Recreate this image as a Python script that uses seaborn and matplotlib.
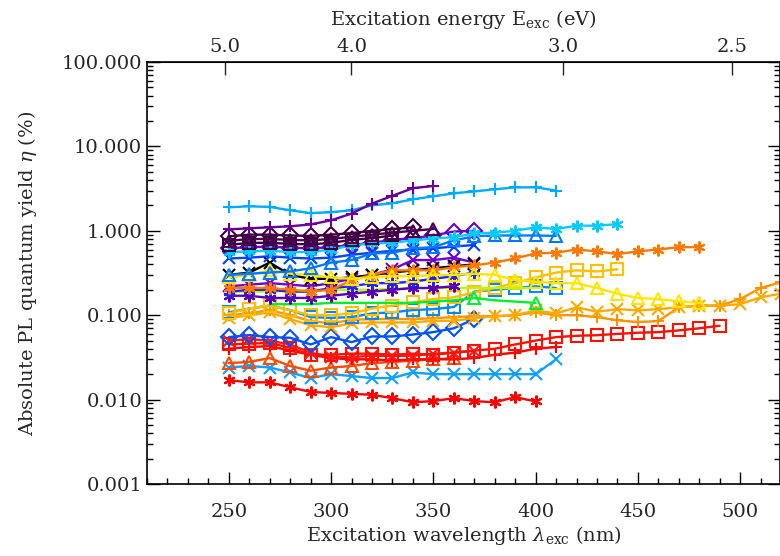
import matplotlib
matplotlib.use("Agg")
import matplotlib.pyplot as plt
import matplotlib.ticker as mticker
import pandas as pd
import seaborn as sns

# Excitation wavelength grid (nm); every series starts at 250 nm unless noted
WAVELENGTHS = [250, 260, 270, 280, 290, 300, 310, 320, 330, 340,
               350, 360, 370, 380, 390, 400, 410, 420, 430, 440,
               450, 460, 470, 480, 490, 500, 510, 520]

# Absolute PL quantum yield (%)
qy_purple_plus = [1.04, 1.07, 1.10, 1.13, 1.19, 1.33, 1.6, 2.1, 2.6, 3.2, 3.4]
qy_cyan_plus = [1.90, 1.95, 1.92, 1.75, 1.62, 1.66, 1.75, 2.0, 2.12, 2.36,
                2.56, 2.78, 2.93, 3.1, 3.27, 3.27, 3.0]
qy_dkpurple_diamond = [0.86, 0.90, 0.90, 0.88, 0.87, 0.90, 0.94, 1.0, 1.05, 1.10]
qy_dkpurple_triangle = [0.76, 0.80, 0.80, 0.78, 0.77, 0.80, 0.85, 0.90, 0.95, 1.0, 1.05]
qy_dkpurple_square = [0.68, 0.72, 0.72, 0.70, 0.69, 0.72, 0.78, 0.82, 0.88]
qy_violet_diamond = [0.62, 0.64, 0.65, 0.63, 0.62, 0.64, 0.68, 0.72, 0.78, 0.82,
                     0.88, 0.98, 1.0]
qy_cyan_star = [0.56, 0.57, 0.58, 0.56, 0.56, 0.60, 0.67, 0.71, 0.72, 0.77,
                0.81, 0.84, 0.93, 0.95, 1.0, 1.1, 1.05, 1.15, 1.15, 1.2]
qy_azure_triangle = [0.30, 0.31, 0.32, 0.33, 0.36, 0.42, 0.45, 0.54, 0.55, 0.62,
                     0.64, 0.77, 0.86, 0.88, 0.88, 0.88, 0.87]
qy_blue_x = [0.47, 0.48, 0.50, 0.48, 0.47, 0.48, 0.52, 0.55, 0.58, 0.60,
             0.62, 0.65, 0.68]
qy_blue_star = [0.19, 0.20, 0.20, 0.19, 0.19, 0.21, 0.22, 0.24, 0.24, 0.25,
                0.27, 0.29, 0.32]
qy_violet_x = [0.22, 0.23, 0.24, 0.23, 0.22, 0.24, 0.27, 0.30, 0.35, 0.45,
               0.45, 0.48, 0.42]
qy_violet_star = [0.17, 0.17, 0.16, 0.16, 0.16, 0.17, 0.18, 0.19, 0.20, 0.21,
                  0.21, 0.22]
qy_black_x = [0.30, 0.32, 0.42, 0.30, 0.27, 0.27, 0.28, 0.30, 0.32, 0.34,
              0.36, 0.38, 0.40]
qy_orange_star = [0.21, 0.21, 0.21, 0.20, 0.19, 0.20, 0.26, 0.30, 0.34, 0.34,
                  0.34, 0.37, 0.39, 0.42, 0.47, 0.54, 0.55, 0.60, 0.57, 0.53,
                  0.57, 0.60, 0.64, 0.64]
qy_yellow_triangle = [0.28, 0.30, 0.34, 0.31, 0.30, 0.28, 0.27, 0.28, 0.29, 0.29,
                      0.30, 0.30, 0.31, 0.30, 0.26, 0.25, 0.24, 0.24, 0.21, 0.18,
                      0.16, 0.155, 0.146, 0.14]
qy_lime_line = [0.19, 0.19, 0.19, 0.195, 0.20, 0.20, 0.20, 0.20, 0.205, 0.21,
                0.21, 0.21, 0.21, 0.21, 0.21, 0.21]
qy_green_triangle = [0.135, 0.135, 0.135, 0.14, 0.14, 0.14, 0.14, 0.14, 0.145,
                     0.15, 0.16, 0.15, 0.145, 0.14]  # starts at 270 nm
qy_gold_square = [0.105, 0.12, 0.13, 0.115, 0.10, 0.10, 0.105, 0.12, 0.13, 0.142,
                  0.155, 0.163, 0.186, 0.21, 0.24, 0.28, 0.32, 0.34, 0.33, 0.35]
qy_azure_square = [0.108, 0.12, 0.13, 0.115, 0.095, 0.093, 0.095, 0.105, 0.108,
                   0.115, 0.118, 0.125, 0.19, 0.20, 0.21, 0.22, 0.21]
qy_orange_x = [0.092, 0.10, 0.108, 0.09, 0.076, 0.072, 0.08, 0.082, 0.082, 0.082,
               0.086, 0.086, 0.092, 0.097, 0.10, 0.114, 0.105, 0.124, 0.11, 0.118,
               0.114, 0.118, 0.124, 0.13, 0.13, 0.135, 0.163, 0.18]
qy_orange_plus = [0.10, 0.105, 0.115, 0.10, 0.085, 0.08, 0.088, 0.09, 0.09, 0.09,
                  0.092, 0.095, 0.097, 0.097, 0.10, 0.108, 0.10, 0.10, 0.095, 0.087,
                  0.083, 0.085, 0.124, 0.13, 0.13, 0.155, 0.21, 0.245]
qy_blue_diamond = [0.055, 0.058, 0.055, 0.054, 0.045, 0.055, 0.048, 0.056, 0.056,
                   0.059, 0.063, 0.07, 0.09]
qy_red_square = [0.045, 0.046, 0.047, 0.041, 0.034, 0.034, 0.035, 0.035, 0.034,
                 0.035, 0.034, 0.036, 0.038, 0.040, 0.045, 0.050, 0.055, 0.057,
                 0.058, 0.060, 0.062, 0.063, 0.066, 0.070, 0.075]
qy_red_x = [0.050, 0.052, 0.050, 0.045, 0.036, 0.032, 0.032, 0.033, 0.033, 0.033,
            0.035, 0.036, 0.038]
qy_red_plus = [0.040, 0.042, 0.043, 0.038, 0.034, 0.031, 0.030, 0.030, 0.029,
               0.030, 0.030, 0.030, 0.031, 0.034, 0.036, 0.040, 0.042]
qy_redorange_triangle = [0.027, 0.028, 0.031, 0.025, 0.022, 0.024, 0.025, 0.027,
                         0.028, 0.029, 0.030, 0.031]
qy_azure_x = [0.024, 0.025, 0.024, 0.021, 0.018, 0.020, 0.019, 0.018, 0.018,
              0.021, 0.020, 0.020, 0.020, 0.020, 0.020, 0.020, 0.030]
qy_red_star = [0.017, 0.016, 0.016, 0.014, 0.0123, 0.012, 0.0117, 0.0114, 0.0104,
               0.0093, 0.0096, 0.0104, 0.0096, 0.0093, 0.0107, 0.0095]

STAR = (6, 2, 0)

# (values, first wavelength, colour, marker)
series = [
    (qy_red_star, 250, "#ff0000", STAR),
    (qy_azure_x, 250, "#10a0ff", "x"),
    (qy_redorange_triangle, 250, "#ff4a00", "^"),
    (qy_red_plus, 250, "#ff0000", "+"),
    (qy_red_x, 250, "#ff1a1a", "x"),
    (qy_red_square, 250, "#ff1000", "s"),
    (qy_blue_diamond, 250, "#0050ff", "D"),
    (qy_orange_plus, 250, "#ff9400", "+"),
    (qy_orange_x, 250, "#ffaa00", "x"),
    (qy_azure_square, 250, "#0088ff", "s"),
    (qy_gold_square, 250, "#ffc000", "s"),
    (qy_green_triangle, 270, "#00ee30", "^"),
    (qy_lime_line, 250, "#b4ff00", None),
    (qy_violet_star, 250, "#5a00b0", STAR),
    (qy_blue_star, 250, "#2020ff", STAR),
    (qy_violet_x, 250, "#7000d0", "x"),
    (qy_black_x, 250, "#000000", "x"),
    (qy_orange_star, 250, "#ff7800", STAR),
    (qy_yellow_triangle, 250, "#ffe600", "^"),
    (qy_blue_x, 250, "#0040ff", "x"),
    (qy_azure_triangle, 250, "#0078ff", "^"),
    (qy_violet_diamond, 250, "#6600cc", "D"),
    (qy_cyan_star, 250, "#00ccff", STAR),
    (qy_dkpurple_square, 250, "#3a003a", "s"),
    (qy_dkpurple_triangle, 250, "#4a0050", "^"),
    (qy_dkpurple_diamond, 250, "#400040", "D"),
    (qy_cyan_plus, 250, "#00aaff", "+"),
    (qy_purple_plus, 250, "#660099", "+"),
]

sns.set_style("ticks")
plt.rcParams["font.family"] = ["DejaVu Serif"]
plt.rcParams["mathtext.fontset"] = "dejavuserif"

fig = plt.figure(figsize=(7.8, 5.56), dpi=100)
ax = fig.add_axes([0.1885, 0.1295, 0.8115, 0.759])

for values, start, color, marker in series:
    i0 = WAVELENGTHS.index(start)
    df = pd.DataFrame({"wl": WAVELENGTHS[i0:i0 + len(values)], "qy": values})
    kws = dict(color=color, linewidth=1.7)
    if marker is not None:
        kws.update(marker=marker, markersize=8.5, markeredgewidth=1.5,
                   markeredgecolor=color, markerfacecolor="none")
    if color == "#00ee30":
        # only a couple of the green triangles stay visible in the original
        kws["markevery"] = [10, 13]
    sns.lineplot(data=df, x="wl", y="qy", ax=ax, **kws)

ax.set_yscale("log")
ax.set_xlim(210, 519.5)
ax.set_ylim(0.001, 100)
ax.yaxis.set_major_locator(mticker.FixedLocator([0.001, 0.01, 0.1, 1, 10, 100]))
ax.yaxis.set_major_formatter(mticker.FormatStrFormatter("%.3f"))
ax.yaxis.set_minor_locator(mticker.LogLocator(base=10, subs=range(2, 10)))
ax.yaxis.set_minor_formatter(mticker.NullFormatter())
ax.xaxis.set_major_locator(mticker.MultipleLocator(50))
ax.xaxis.set_minor_locator(mticker.MultipleLocator(10))
ax.tick_params(which="both", direction="in", top=False, right=True,
               labelsize=14, color="black")
ax.tick_params(which="major", length=9, width=1)
ax.tick_params(which="minor", length=4, width=1)
ax.tick_params(axis="x", pad=14)
for sp in ax.spines.values():
    sp.set_linewidth(1.2)
    sp.set_color("black")

ax.set_xlabel(r"Excitation wavelength $\lambda_{\rm exc}$ (nm)", fontsize=14, labelpad=2)
ax.set_ylabel(r"Absolute PL quantum yield $\eta$ (%)", fontsize=14, labelpad=16)

# top axis: excitation energy
secax = ax.secondary_xaxis("top", functions=(lambda x: 1239.84 / x,
                                             lambda e: 1239.84 / e))
secax.set_xticks([5.0, 4.0, 3.0, 2.5])
secax.xaxis.set_major_formatter(mticker.FormatStrFormatter("%.1f"))
secax.xaxis.set_minor_locator(mticker.NullLocator())
secax.tick_params(direction="in", length=9, width=1, labelsize=14, pad=4)
secax.set_xlabel(r"Excitation energy E$_{\rm exc}$ (eV)", fontsize=14, labelpad=10)

fig.savefig("out.png", dpi=100)
